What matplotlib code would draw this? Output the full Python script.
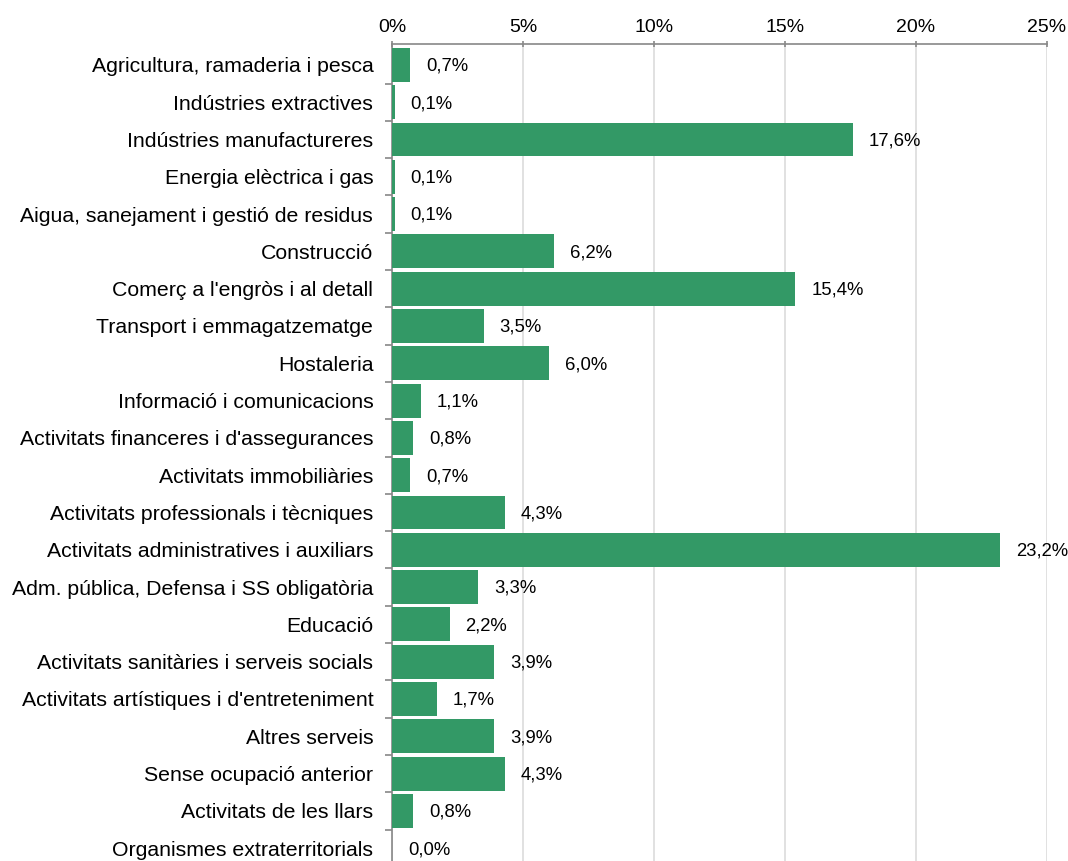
import matplotlib
matplotlib.use("Agg")
import matplotlib.pyplot as plt
import numpy as np
from matplotlib.ticker import FixedLocator

plt.rcParams['font.family'] = ['Liberation Sans', 'DejaVu Sans']

categories = [
    "Agricultura, ramaderia i pesca",
    "Indústries extractives",
    "Indústries manufactureres",
    "Energia elèctrica i gas",
    "Aigua, sanejament i gestió de residus",
    "Construcció",
    "Comerç a l'engròs i al detall",
    "Transport i emmagatzematge",
    "Hostaleria",
    "Informació i comunicacions",
    "Activitats financeres i d'assegurances",
    "Activitats immobiliàries",
    "Activitats professionals i tècniques",
    "Activitats administratives i auxiliars",
    "Adm. pública, Defensa i SS obligatòria",
    "Educació",
    "Activitats sanitàries i serveis socials",
    "Activitats artístiques i d'entreteniment",
    "Altres serveis",
    "Sense ocupació anterior",
    "Activitats de les llars",
    "Organismes extraterritorials",
]
values = [0.7, 0.1, 17.6, 0.1, 0.1, 6.2, 15.4, 3.5, 6.0, 1.1, 0.8, 0.7,
          4.3, 23.2, 3.3, 2.2, 3.9, 1.7, 3.9, 4.3, 0.8, 0.0]
xticks = [0, 5, 10, 15, 20, 25]
xticklabels = ["0%", "5%", "10%", "15%", "20%", "25%"]

fig = plt.figure(figsize=(10.68, 8.61), dpi=100)
ax = fig.add_axes([392/1068, 0.0, (1047-392)/1068, 1 - 44/861])

n = len(categories)
y = np.arange(n)
ax.barh(y, values, height=0.91, color="#339966", zorder=3)

ax.set_xlim(0, 25)
top = -0.56
ax.set_ylim(top + 817/37.3, top)
ax.set_yticks(y)
ax.set_yticklabels(categories, fontsize=15.3, color="#000000")
ax.yaxis.set_minor_locator(FixedLocator(np.arange(0.5, n, 1.0)))
ax.tick_params(axis='y', which='major', length=0, pad=13.5)
ax.tick_params(axis='y', which='minor', length=5, color="#888888", width=1.2)

ax.xaxis.tick_top()
ax.set_xticks(xticks)
ax.set_xticklabels(xticklabels, fontsize=14)
ax.tick_params(axis='x', length=4, direction='inout', color="#888888", width=1.2, pad=4)
ax.grid(axis='x', color="#dcdcdc", linewidth=1.2, zorder=0)

for s in ['right', 'bottom']:
    ax.spines[s].set_visible(False)
for s in ['left', 'top']:
    ax.spines[s].set_color("#888888")
    ax.spines[s].set_linewidth(1.2)

for yi, v in zip(y, values):
    ax.annotate(f"{v:.1f}%".replace(".", ","), xy=(v, yi), xytext=(11.5, -1),
                textcoords="offset points", va="center", ha="left", fontsize=13.3)

fig.savefig("out.png", dpi=100)
